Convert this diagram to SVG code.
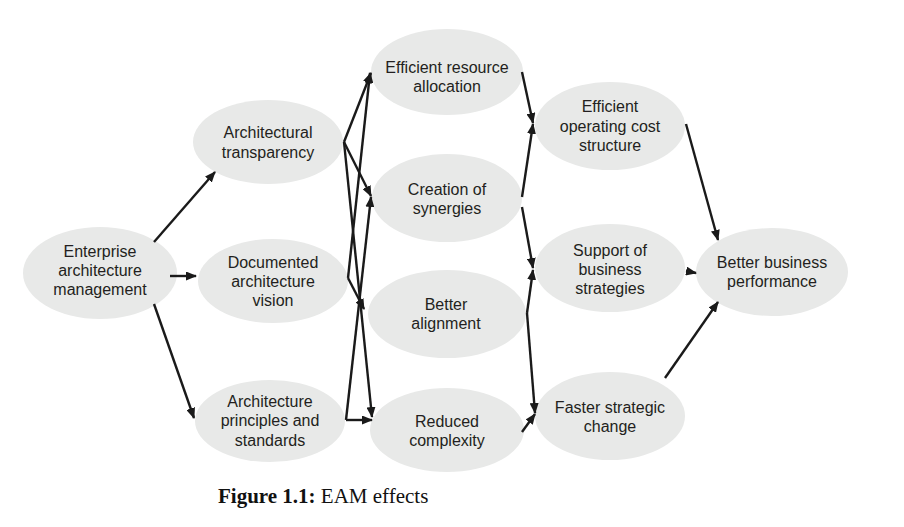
<svg xmlns="http://www.w3.org/2000/svg" width="904" height="527" viewBox="0 0 904 527">
<defs>
<style>
.n ellipse{fill:#e8e9e8;stroke:none}
.n text{font-family:"Liberation Sans",Arial,sans-serif;font-size:16px;fill:#231f20;text-anchor:middle}
.c line{stroke:#1a1a1a;stroke-width:2.4;fill:none;marker-end:url(#ah)}
.cap{font-family:"Liberation Serif","Times New Roman",serif;font-size:21px;fill:#111}
</style>
<marker id="ah" markerUnits="userSpaceOnUse" markerWidth="11" markerHeight="9" refX="10" refY="4.5" orient="auto">
<path d="M0,0 L11,4.5 L0,9 Z" fill="#1a1a1a"/>
</marker>
</defs>
<rect width="904" height="527" fill="#fff"/>
<g id="eam" class="n"><ellipse cx="100" cy="273" rx="77" ry="46"/><text x="100" y="257">Enterprise</text><text x="100" y="276">architecture</text><text x="100" y="295">management</text></g>
<g id="transparency" class="n"><ellipse cx="268" cy="142" rx="75" ry="42"/><text x="268" y="138">Architectural</text><text x="268" y="158">transparency</text></g>
<g id="vision" class="n"><ellipse cx="273" cy="281" rx="75" ry="42"/><text x="273" y="268">Documented</text><text x="273" y="287">architecture</text><text x="273" y="306">vision</text></g>
<g id="principles" class="n"><ellipse cx="270" cy="421" rx="75" ry="41"/><text x="270" y="407">Architecture</text><text x="270" y="426">principles and</text><text x="270" y="446">standards</text></g>
<g id="resource" class="n"><ellipse cx="447" cy="72" rx="76" ry="43"/><text x="447" y="73">Efficient resource</text><text x="447" y="92">allocation</text></g>
<g id="synergies" class="n"><ellipse cx="447" cy="198" rx="75" ry="44"/><text x="447" y="195">Creation of</text><text x="447" y="214">synergies</text></g>
<g id="alignment" class="n"><ellipse cx="447" cy="314" rx="79" ry="44"/><text x="446" y="310">Better</text><text x="446" y="329">alignment</text></g>
<g id="complexity" class="n"><ellipse cx="447" cy="430" rx="77" ry="42"/><text x="447" y="427">Reduced</text><text x="447" y="446">complexity</text></g>
<g id="cost" class="n"><ellipse cx="610" cy="126" rx="75" ry="44"/><text x="610" y="112">Efficient</text><text x="610" y="132">operating cost</text><text x="610" y="151">structure</text></g>
<g id="support" class="n"><ellipse cx="610" cy="268" rx="75" ry="44"/><text x="610" y="256">Support of</text><text x="610" y="275">business</text><text x="610" y="294">strategies</text></g>
<g id="faster" class="n"><ellipse cx="610" cy="416" rx="75" ry="44"/><text x="610" y="413">Faster strategic</text><text x="610" y="432">change</text></g>
<g id="performance" class="n"><ellipse cx="772" cy="272" rx="76" ry="44"/><text x="772" y="268">Better business</text><text x="772" y="287">performance</text></g>
<g id="connectors" class="c">
<line x1="154" y1="242" x2="215" y2="172"/>
<line x1="170" y1="276" x2="196" y2="276"/>
<line x1="154" y1="304" x2="194" y2="418"/>
<line x1="344" y1="142" x2="371" y2="73"/>
<line x1="344" y1="142" x2="371" y2="196"/>
<line x1="344" y1="142" x2="372" y2="417"/>
<line x1="348" y1="278" x2="370" y2="73"/>
<line x1="348" y1="278" x2="364" y2="309"/>
<line x1="346" y1="420" x2="371" y2="197"/>
<line x1="346" y1="420" x2="372" y2="420"/>
<line x1="522" y1="72" x2="533" y2="123"/>
<line x1="522" y1="197" x2="533" y2="124"/>
<line x1="522" y1="207" x2="533" y2="268"/>
<line x1="527" y1="313" x2="533" y2="270"/>
<line x1="527" y1="313" x2="535" y2="413"/>
<line x1="522" y1="432" x2="535" y2="414"/>
<line x1="686" y1="124" x2="718" y2="240"/>
<line x1="686" y1="271" x2="696" y2="273"/>
<line x1="665" y1="378" x2="718" y2="302"/>
</g>
<text class="cap" x="218" y="503"><tspan font-weight="bold">Figure 1.1:</tspan> EAM effects</text>
</svg>
